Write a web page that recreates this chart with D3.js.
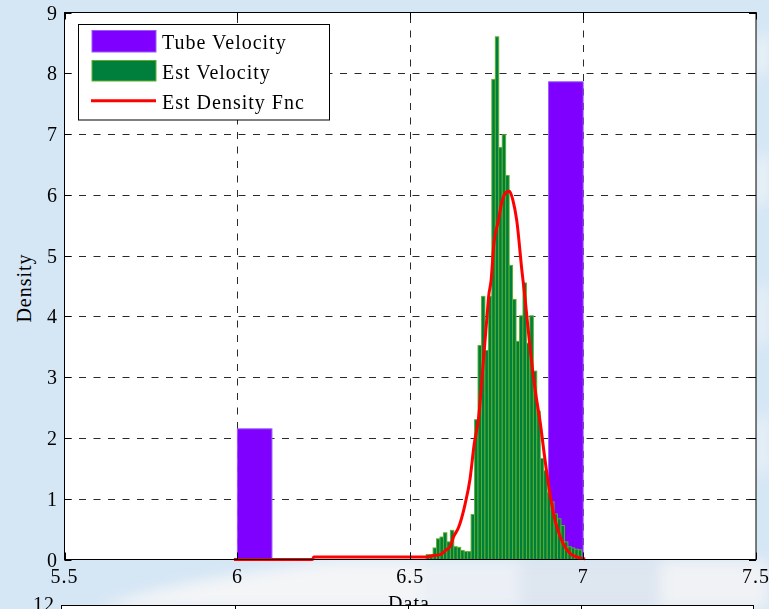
<!DOCTYPE html>
<html>
<head>
<meta charset="utf-8">
<script src="https://cdn.jsdelivr.net/npm/d3@7"></script>
<style>
  html, body { margin: 0; padding: 0; background: #d5e6f5; }
  svg { display: block; }
  text { font-family: "Liberation Serif", "Times New Roman", serif; fill: #000; }
</style>
</head>
<body>
<svg id="chart" width="769" height="609"></svg>
<script>
// Tube velocity histogram (bin left edge, density), bin width 0.1
const tubeBinStart = [6.0, 6.9];
const tubeDensity = [2.15, 7.86];
const tubeBinWidth = 0.1;

// Estimated velocity histogram: 45 bins of width 0.01 starting at 6.546
const estBinStart = 6.546;
const estBinWidth = 0.01;
const estDensity = [
  0.08, 0.08, 0.19, 0.34, 0.37, 0.44, 0.29, 0.48, 0.21, 0.20,
  0.15, 0.13, 0.13, 0.74, 2.30, 3.52, 4.33, 3.44, 4.33, 7.90,
  8.60, 6.78, 6.99, 6.32, 4.84, 4.28, 3.59, 4.01, 4.55, 3.56,
  4.01, 3.10, 2.44, 1.66, 1.46, 1.10, 0.95, 0.75, 0.67, 0.56,
  0.29, 0.21, 0.19, 0.17, 0.16
];

// Estimated density function
const fncX = [5.99, 6.217, 6.221, 6.546, 6.567, 6.587, 6.602, 6.616, 6.625, 6.640,
  6.659, 6.673, 6.685, 6.697, 6.712, 6.722, 6.727, 6.734, 6.741, 6.755,
  6.765, 6.777, 6.787, 6.797, 6.808, 6.823, 6.832, 6.847, 6.861, 6.876,
  6.890, 6.905, 6.919, 6.934, 6.948, 6.962, 6.983, 7.006];
const fncY = [0, 0, 0.04, 0.04, 0.066, 0.08, 0.15, 0.22, 0.37, 0.53,
  0.92, 1.33, 1.90, 2.30, 3.30, 4.00, 4.34, 4.60, 5.14, 5.58,
  5.88, 6.04, 6.06, 5.91, 5.58, 4.75, 4.30, 3.45, 2.80, 2.25,
  1.63, 1.05, 0.64, 0.37, 0.20, 0.10, 0.04, 0.01];

const xTicks = [5.5, 6, 6.5, 7, 7.5];
const xTickLabels = ["5.5", "6", "6.5", "7", "7.5"];
const yTicks = [0, 1, 2, 3, 4, 5, 6, 7, 8, 9];
const legendLabels = ["Tube Velocity", "Est Velocity", "Est Density Fnc"];

const svg = d3.select("#chart");
const W = 769, H = 609;

// soft background texture
const defs = svg.append("defs");
defs.append("filter").attr("id", "soft").attr("x", "-20%").attr("y", "-50%").attr("width", "140%").attr("height", "200%")
  .append("feGaussianBlur").attr("stdDeviation", 7);
svg.append("rect").attr("width", W).attr("height", H).attr("fill", "#d5e6f5");
const tex = svg.append("g").attr("filter", "url(#soft)");
const streaks = [
  {d: "M95,609 C140,590 220,575 330,560 L420,560 L420,609 Z", c: "#f4f5f7", o: 0.95},
  {d: "M420,560 L520,560 L520,609 L420,609 Z", c: "#eef1f6", o: 0.9},
  {d: "M520,560 L660,560 L660,609 L520,609 Z", c: "#dfe6ef", o: 0.9},
  {d: "M660,560 L769,560 L769,609 L660,609 Z", c: "#f1f2f4", o: 0.95},
  {d: "M756,40 L769,30 L769,70 L756,80 Z", c: "#f4f6f8", o: 0.8},
  {d: "M756,160 L769,150 L769,200 L756,210 Z", c: "#f4f6f8", o: 0.8},
  {d: "M756,290 L769,280 L769,340 L756,350 Z", c: "#eef2f6", o: 0.8},
  {d: "M756,420 L769,410 L769,470 L756,480 Z", c: "#f4f6f8", o: 0.7}
];
tex.selectAll("path").data(streaks).join("path")
  .attr("d", d => d.d).attr("fill", d => d.c).attr("opacity", d => d.o);

const x = d3.scaleLinear().domain([5.5, 7.5]).range([64.5, 756]);
const y = d3.scaleLinear().domain([0, 9]).range([559.5, 12.5]);
const [x0, x1] = x.range();
const [yb, yt] = y.range();

// axes background
svg.append("rect").attr("x", x0).attr("y", yt).attr("width", x1 - x0).attr("height", yb - yt).attr("fill", "#fff");

// dashed grid
const grid = svg.append("g").attr("stroke", "#2a2a2a").attr("stroke-width", 1).attr("stroke-dasharray", "7,7.5");
grid.selectAll("line.v").data(xTicks.slice(1, -1)).join("line")
  .attr("x1", d => Math.round(x(d)) + 0.5).attr("x2", d => Math.round(x(d)) + 0.5)
  .attr("y1", yb).attr("y2", yt);
grid.selectAll("line.h").data(yTicks.slice(1, -1)).join("line")
  .attr("y1", d => Math.round(y(d)) + 0.5).attr("y2", d => Math.round(y(d)) + 0.5)
  .attr("x1", x0).attr("x2", x1);

// tube velocity bars
svg.append("g").selectAll("rect").data(tubeBinStart).join("rect")
  .attr("x", d => x(d)).attr("width", d => x(d + tubeBinWidth) - x(d))
  .attr("y", (d, i) => y(tubeDensity[i])).attr("height", (d, i) => y(0) - y(tubeDensity[i]))
  .attr("fill", "#7f00ff").attr("stroke", "#9a5cf5").attr("stroke-width", 1);

// estimated velocity bars
svg.append("g").selectAll("rect").data(estDensity).join("rect")
  .attr("x", (d, i) => x(estBinStart + i * estBinWidth))
  .attr("width", (d, i) => x(estBinStart + (i + 1) * estBinWidth) - x(estBinStart + i * estBinWidth))
  .attr("y", d => y(d)).attr("height", d => y(0) - y(d))
  .attr("fill", "#007f3c").attr("stroke", "#5fb02a").attr("stroke-width", 0.9);

// density function
const line = d3.line().x(d => x(d[0])).y(d => y(d[1])).curve(d3.curveMonotoneX);
svg.append("path").datum(fncX.map((v, i) => [v, fncY[i]]))
  .attr("d", line).attr("fill", "none").attr("stroke", "#ff0000").attr("stroke-width", 3)
  .attr("stroke-linejoin", "round");

// frame and inside ticks
const frame = svg.append("g").attr("stroke", "#000").attr("stroke-width", 1).attr("fill", "none");
frame.append("rect").attr("x", x0).attr("y", yt).attr("width", x1 - x0).attr("height", yb - yt);
const tl = 7;
xTicks.forEach(v => {
  const px = Math.round(x(v)) + 0.5;
  frame.append("line").attr("x1", px).attr("x2", px).attr("y1", yb).attr("y2", yb - tl);
  frame.append("line").attr("x1", px).attr("x2", px).attr("y1", yt).attr("y2", yt + tl);
});
yTicks.forEach(v => {
  const py = Math.round(y(v)) + 0.5;
  frame.append("line").attr("x1", x0).attr("x2", x0 + tl).attr("y1", py).attr("y2", py);
  frame.append("line").attr("x1", x1).attr("x2", x1 - tl).attr("y1", py).attr("y2", py);
});

// tick labels
const fs = 20;
svg.append("g").selectAll("text").data(xTicks).join("text")
  .attr("x", d => x(d)).attr("y", 583).attr("text-anchor", "middle")
  .attr("font-size", fs).attr("letter-spacing", 1)
  .text((d, i) => xTickLabels[i]);
svg.append("g").selectAll("text").data(yTicks).join("text")
  .attr("x", 58).attr("y", d => y(d) + 7).attr("text-anchor", "end")
  .attr("font-size", fs).attr("letter-spacing", 1)
  .text(d => d);

// axis titles
svg.append("text").attr("transform", "translate(31,288) rotate(-90)")
  .attr("text-anchor", "middle").attr("font-size", fs).attr("letter-spacing", 1).text("Density");
svg.append("text").attr("x", 409).attr("y", 610).attr("text-anchor", "middle")
  .attr("font-size", fs).attr("letter-spacing", 1).text("Data");

// legend
const lg = svg.append("g");
lg.append("rect").attr("x", 78.5).attr("y", 24.5).attr("width", 251).attr("height", 95.5)
  .attr("fill", "#fff").attr("stroke", "#000").attr("stroke-width", 1);
lg.append("rect").attr("x", 92).attr("y", 30.5).attr("width", 64).attr("height", 21.5)
  .attr("fill", "#7f00ff").attr("stroke", "#9a5cf5");
lg.append("rect").attr("x", 92).attr("y", 60.5).attr("width", 64).attr("height", 20.5)
  .attr("fill", "#007f3c").attr("stroke", "#5fb02a");
lg.append("line").attr("x1", 91).attr("x2", 156).attr("y1", 100.7).attr("y2", 100.7)
  .attr("stroke", "#ff0000").attr("stroke-width", 3);
lg.selectAll("text").data(legendLabels).join("text")
  .attr("x", 162).attr("y", (d, i) => [48.5, 79, 108.5][i])
  .attr("font-size", fs).attr("letter-spacing", 1).text(d => d);

// top edge of the next axes below
const x2 = d3.scaleLinear().domain([5.5, 7.5]).range([61.5, 753.5]);
const low = svg.append("g");
low.append("rect").attr("x", 61.5).attr("y", 605.5).attr("width", 692).attr("height", 20)
  .attr("fill", "#fff").attr("stroke", "#000").attr("stroke-width", 1);
xTicks.slice(1, -1).forEach(v => {
  const px = Math.round(x2(v)) + 0.5;
  low.append("line").attr("x1", px).attr("x2", px).attr("y1", 605.5).attr("y2", 612.5)
    .attr("stroke", "#000").attr("stroke-width", 1);
});
low.append("text").attr("x", 55).attr("y", 611).attr("text-anchor", "end")
  .attr("font-size", fs).attr("letter-spacing", 1).text("12");
</script>
</body>
</html>
